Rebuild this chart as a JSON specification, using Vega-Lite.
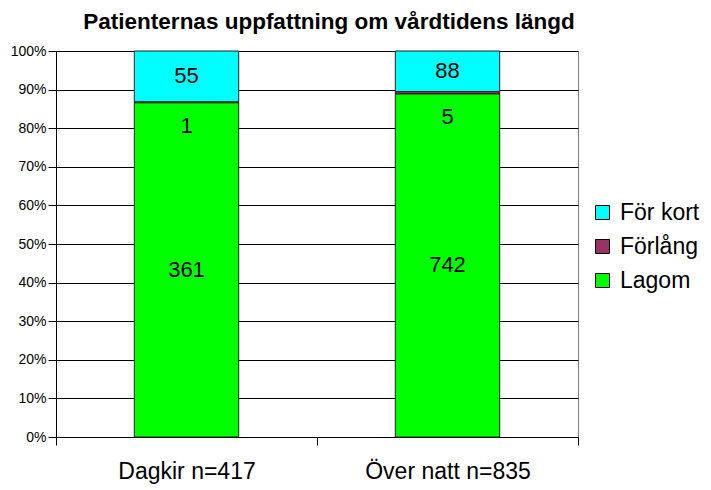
{
  "$schema": "https://vega.github.io/schema/vega-lite/v6.json",
  "width": 522,
  "height": 386,
  "autosize": {"type": "none"},
  "padding": {"left": 56, "top": 51, "right": 133, "bottom": 53},
  "background": "white",
  "config": {
    "font": "Liberation Sans",
    "view": {"stroke": "#808080", "strokeWidth": 1}
  },
  "title": {
    "text": "Patienternas uppfattning om vårdtidens längd",
    "fontSize": 22.5,
    "fontWeight": "bold",
    "font": "Liberation Sans",
    "color": "black",
    "anchor": "middle",
    "offset": 11,
    "dx": 12
  },
  "data": {
    "values": [
      {"grupp": "Dagkir n=417", "svar": "För kort", "antal": 55},
      {"grupp": "Dagkir n=417", "svar": "Förlång", "antal": 1},
      {"grupp": "Dagkir n=417", "svar": "Lagom", "antal": 361},
      {"grupp": "Över natt n=835", "svar": "För kort", "antal": 88},
      {"grupp": "Över natt n=835", "svar": "Förlång", "antal": 5},
      {"grupp": "Över natt n=835", "svar": "Lagom", "antal": 742}
    ]
  },
  "encoding": {
    "x": {
      "field": "grupp",
      "type": "nominal",
      "sort": null,
      "scale": {"paddingInner": 0, "paddingOuter": 0},
      "axis": {
        "title": null,
        "labelAngle": 0,
        "labelFontSize": 23,
        "labelColor": "black",
        "labelPadding": 15,
        "tickBand": "extent",
        "tickSize": 8,
        "tickColor": "black",
        "domainColor": "black",
        "grid": false
      }
    }
  },
  "layer": [
    {
      "mark": {"type": "bar", "width": {"band": 0.4}, "stroke": "#222", "strokeWidth": 1},
      "encoding": {
        "y": {
          "field": "antal",
          "type": "quantitative",
          "stack": "normalize",
          "scale": {"domain": [0, 1]},
          "axis": {
            "title": null,
            "format": "%",
            "values": [0, 0.1, 0.2, 0.3, 0.4, 0.5, 0.6, 0.7, 0.8, 0.9, 1],
            "labelFontSize": 14,
            "labelColor": "black",
            "tickSize": 8,
            "tickColor": "black",
            "domainColor": "black",
            "gridColor": "black",
            "gridOpacity": 1,
            "labelPadding": 2
          }
        },
        "color": {
          "field": "svar",
          "type": "nominal",
          "scale": {"domain": ["För kort", "Förlång", "Lagom"], "range": ["#00FFFF", "#993366", "#00FF00"]},
          "legend": {
            "title": null,
            "orient": "none",
            "legendX": 535,
            "legendY": 150,
            "symbolType": "square",
            "symbolSize": 196,
            "symbolStrokeColor": "black",
            "symbolStrokeWidth": 1,
            "labelFontSize": 23,
            "labelColor": "black",
            "rowPadding": 10,
            "labelOffset": 6
          }
        },
        "order": {"field": "svar", "sort": "descending"}
      }
    },
    {
      "mark": {"type": "text", "fontSize": 22, "color": "black", "baseline": "middle"},
      "encoding": {
        "y": {
          "field": "antal",
          "type": "quantitative",
          "stack": "normalize",
          "bandPosition": 0.5,
          "axis": {
            "title": null,
            "format": "%",
            "values": [0, 0.1, 0.2, 0.3, 0.4, 0.5, 0.6, 0.7, 0.8, 0.9, 1],
            "labelFontSize": 14,
            "labelColor": "black",
            "tickSize": 8,
            "tickColor": "black",
            "domainColor": "black",
            "gridColor": "black",
            "gridOpacity": 1,
            "labelPadding": 2
          }
        },
        "text": {
          "condition": {"test": "datum.svar !== 'Förlång'", "field": "antal", "type": "quantitative"},
          "value": ""
        },
        "order": {"field": "svar", "sort": "descending"}
      }
    },
    {
      "mark": {"type": "text", "fontSize": 22, "color": "black", "baseline": "middle", "dy": 24},
      "encoding": {
        "y": {
          "field": "antal",
          "type": "quantitative",
          "stack": "normalize",
          "bandPosition": 0.5,
          "axis": {
            "title": null,
            "format": "%",
            "values": [0, 0.1, 0.2, 0.3, 0.4, 0.5, 0.6, 0.7, 0.8, 0.9, 1],
            "labelFontSize": 14,
            "labelColor": "black",
            "tickSize": 8,
            "tickColor": "black",
            "domainColor": "black",
            "gridColor": "black",
            "gridOpacity": 1,
            "labelPadding": 2
          }
        },
        "text": {
          "condition": {"test": "datum.svar === 'Förlång'", "field": "antal", "type": "quantitative"},
          "value": ""
        },
        "order": {"field": "svar", "sort": "descending"}
      }
    }
  ]
}
